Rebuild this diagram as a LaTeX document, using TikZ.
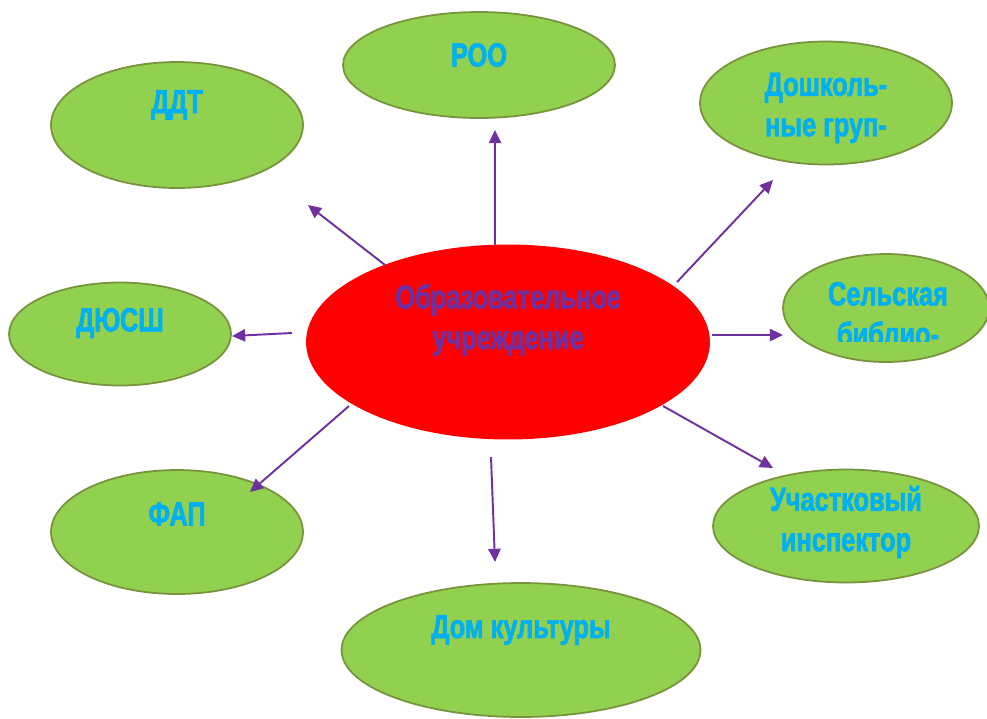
\documentclass[tikz,border=0pt]{standalone}
\usepackage{fontspec}
\newfontfamily\narrowfont[FakeStretch=0.76,FakeBold=1.8]{Liberation Sans}
\usetikzlibrary{shapes.geometric,arrows.meta}
\definecolor{leaf}{HTML}{92D050}
\definecolor{leafline}{HTML}{77933C}
\definecolor{sky}{HTML}{00B0F0}
\definecolor{violet}{HTML}{7030A0}
\tikzset{
  blob/.style={ellipse,fill=leaf,draw=leafline,line width=1pt,inner sep=0pt},
  hub/.style={ellipse,fill=red,inner sep=0pt},
  tag/.style={align=center,text=sky,inner sep=0pt,font=\narrowfont\bfseries\fontsize{19}{23}\selectfont},
  hubtag/.style={tag,text=violet},
  link/.style={draw=violet,line width=1.1pt,-{Triangle[length=7.5pt,width=7pt]}}
}
\begin{document}
\begin{tikzpicture}[x=0.02cm,y=-0.02cm]
\useasboundingbox (0,0) rectangle (987,718) ;

%outer ellipses
\node [blob,minimum width=5.44cm,minimum height=2.12cm] (roo) at (479,65) {} ;
\node [blob,minimum width=5.04cm,minimum height=2.52cm] (ddt) at (177,125) {} ;
\node [blob,minimum width=5.04cm,minimum height=2.46cm] (dosh) at (826,103) {} ;
\node [blob,minimum width=4.44cm,minimum height=2.06cm] (dussh) at (120,334) {} ;
\node [blob,minimum width=4.12cm,minimum height=2.16cm] (lib) at (886,308) {} ;
\node [blob,minimum width=5.32cm,minimum height=2.26cm] (cop) at (846,526) {} ;
\node [blob,minimum width=5.04cm,minimum height=2.48cm] (fap) at (177,532) {} ;
\node [blob,minimum width=7.18cm,minimum height=2.68cm] (dom) at (521,650) {} ;

%centre
\node [hub,minimum width=8.08cm,minimum height=3.9cm] (school) at (508,342) {} ;

%labels
\node [tag] (roo-t) at (479,55) {РОО} ;
\node [tag] (ddt-t) at (177,105) {ДДТ} ;
\node [tag] (dosh-t) at (826,108) {Дошколь-\\ные груп-} ;
\node [tag] (dussh-t) at (120,323) {ДЮСШ} ;
\node [tag] (cop-t) at (846,522) {Участковый\\инспектор} ;
\node [tag] (fap-t) at (177,514) {ФАП} ;
\node [tag] (dom-t) at (521,630) {Дом культуры} ;
\node [hubtag] (school-t) at (508,320) {Образовательное\\учреждение} ;
\begin{scope}
\clip (770,250) rectangle (987,341) ;
\node [tag] (lib-t) at (888,314) {Сельская\\библио-} ;
\end{scope}

%arrow ends
\coordinate (roo-s) at (495,245) ;   \coordinate (roo-e) at (495,130) ;
\coordinate (ddt-s) at (385,265) ;   \coordinate (ddt-e) at (308,205) ;
\coordinate (dosh-s) at (677,282) ;  \coordinate (dosh-e) at (773,180) ;
\coordinate (dussh-s) at (292,333) ; \coordinate (dussh-e) at (232,336) ;
\coordinate (lib-s) at (712,335) ;   \coordinate (lib-e) at (783,335) ;
\coordinate (cop-s) at (663,406) ;   \coordinate (cop-e) at (773,468) ;
\coordinate (fap-s) at (349,406) ;   \coordinate (fap-e) at (250,492) ;
\coordinate (dom-s) at (491,457) ;   \coordinate (dom-e) at (495,562) ;

%arrows
\foreach \n in {roo,ddt,dosh,dussh,lib,cop,fap,dom}
  \draw [link] (\n-s) -- (\n-e) ;

\end{tikzpicture}
\end{document}
